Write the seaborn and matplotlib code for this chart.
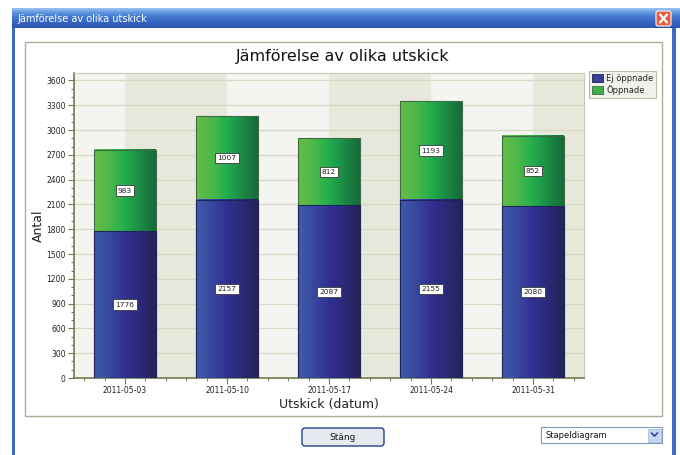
import numpy as np
import matplotlib
matplotlib.use("Agg")
import matplotlib.pyplot as plt
import matplotlib.patches as mpatches
from matplotlib.lines import Line2D
from matplotlib.transforms import IdentityTransform
from matplotlib.colors import LinearSegmentedColormap
from matplotlib.ticker import MultipleLocator
import pandas as pd
import seaborn as sns

# data
dates = ["2011-05-03", "2011-05-10", "2011-05-17", "2011-05-24", "2011-05-31"]
ej_oppnade = [1776, 2157, 2087, 2155, 2080]
oppnade = [983, 1007, 812, 1193, 852]
series_names = ["Ej öppnade", "Öppnade"]

W, H = 680, 455

sns.set_theme(style="white")
plt.rcParams['font.family'] = ['DejaVu Sans']

fig = plt.figure(figsize=(W / 100, H / 100), dpi=100)
fig.patch.set_facecolor("white")
px = IdentityTransform()


def rect_px(x0, y0, x1, y1, zorder=-1, **kw):
    # pixel rectangle, y measured from the top
    r = mpatches.Rectangle((x0, H - y1), x1 - x0, y1 - y0, transform=px,
                           zorder=zorder, **kw)
    fig.add_artist(r)
    return r


# --- window chrome ---
tb = fig.add_axes([12 / W, 1 - 28 / H, (W - 12) / W, 20 / H])
tb_cmap = LinearSegmentedColormap.from_list(
    "tb", ["#9cc4f0", "#5890dc", "#3f74cc", "#3462c0", "#2c54ae"])
tb.imshow(np.linspace(0, 1, 64).reshape(-1, 1), cmap=tb_cmap, aspect="auto",
          extent=[0, 1, 0, 1], interpolation="bicubic")
tb.set_axis_off()
fig.text(17 / W, 1 - 18.5 / H, "Jämförelse av olika utskick", color="white",
         fontsize=7, va="center", ha="left")
close_btn = mpatches.FancyBboxPatch((656, H - 26), 15, 15,
                                    boxstyle="round,pad=0,rounding_size=2",
                                    transform=px, fc="#e06040", ec="white", lw=0.8,
                                    zorder=3)
fig.add_artist(close_btn)
for xs, ys in [([660, 667], [H - 14.5, H - 22.5]), ([660, 667], [H - 22.5, H - 14.5])]:
    fig.add_artist(Line2D(xs, ys, transform=px, color="white", lw=1.6, zorder=4))

rect_px(12, 28, 15, H, fc="#3c6cc8", ec="none")
rect_px(672, 28, 676, H, fc="#3c6cc8", ec="none")

# chart control panel
rect_px(25, 42, 662, 416, fc="white", ec="#a8b098", lw=1)

# --- chart ---
ax = fig.add_axes([74 / W, 1 - 378 / H, 510 / W, 305 / H])
ax.set_facecolor("#f4f4f1")

df = pd.DataFrame({"datum": dates, "ej": ej_oppnade, "opp": oppnade})
df["total"] = df["ej"] + df["opp"]

# alternating background bands between category centres
for i in range(-1, len(dates)):
    if i % 2 == 0:
        ax.axvspan(i, i + 1, color="#e7e8dc", zorder=0.1, lw=0)

n0 = len(ax.patches)
sns.barplot(data=df, x="datum", y="total", color="#3cb04a", saturation=1,
            width=0.6, errorbar=None, ax=ax, edgecolor="#3d6b45", linewidth=0.8)
green_bars = list(ax.patches[n0:])
n1 = len(ax.patches)
sns.barplot(data=df, x="datum", y="ej", color="#34409a", saturation=1,
            width=0.6, errorbar=None, ax=ax, edgecolor="#1f2458", linewidth=0.8)
blue_bars = list(ax.patches[n1:])

green_cmap = LinearSegmentedColormap.from_list(
    "g", ["#68bc48", "#4cb84a", "#22ae4e", "#1c8a44", "#166a3c"])
blue_cmap = LinearSegmentedColormap.from_list(
    "b", ["#3f5cab", "#3848a0", "#313092", "#2b2a78", "#262256"])
grad = np.linspace(0, 1, 128).reshape(1, -1)

# horizontal gradient fill over each seaborn bar
for bars, cmap, z in [(green_bars, green_cmap, 2), (blue_bars, blue_cmap, 3)]:
    for p in bars:
        x0, y0 = p.get_x(), p.get_y()
        ax.imshow(grad, cmap=cmap, aspect="auto", interpolation="bicubic",
                  extent=[x0, x0 + p.get_width(), y0, y0 + p.get_height()],
                  zorder=z)
        p.set_facecolor("none")
        p.set_zorder(z + 0.5)

# value labels
for i, (a, b) in enumerate(zip(ej_oppnade, oppnade)):
    for yv, txt in [(a / 2, a), (a + b / 2, b)]:
        ax.text(i, yv, str(txt), ha="center", va="center", fontsize=5.3,
                color="#222222", zorder=6,
                bbox=dict(boxstyle="square,pad=0.3", fc="white", ec="#3a3a3a", lw=0.6))

ax.set_xlim(-0.5, len(dates) - 0.5)
ax.set_ylim(0, 3690)
ax.yaxis.set_major_locator(MultipleLocator(300))
ax.yaxis.set_minor_locator(MultipleLocator(100))
ax.xaxis.set_minor_locator(MultipleLocator(0.2))

ax.set_axisbelow(True)
ax.yaxis.grid(True, color="#d6dac4", lw=0.9, zorder=0.5)
ax.xaxis.grid(False)

spine_dark = "#6e7c4c"
for s in ["left", "bottom"]:
    ax.spines[s].set_color(spine_dark)
    ax.spines[s].set_linewidth(1.2)
for s in ["top", "right"]:
    ax.spines[s].set_color("#c6cab4")
    ax.spines[s].set_linewidth(0.8)

ax.tick_params(axis="both", which="major", direction="out", length=4, width=0.8,
               color=spine_dark, labelsize=5.5, labelcolor="#222222", pad=2,
               left=True, bottom=True)
ax.tick_params(axis="both", which="minor", direction="out", length=2.5, width=0.7,
               color=spine_dark, left=True, bottom=True)

ax.set_xlabel("Utskick (datum)", fontsize=9, color="#222222", labelpad=2)
ax.set_ylabel("Antal", fontsize=9, color="#222222", labelpad=1)

fig.text(343 / W, 1 - 57 / H, "Jämförelse av olika utskick", ha="center",
         va="center", fontsize=11.5, color="#111111")

# legend
handles = [mpatches.Patch(fc="#34409a", ec="#1f2458", lw=0.6),
           mpatches.Patch(fc="#3cb04a", ec="#3d6b45", lw=0.6)]
leg = fig.legend(handles, series_names, loc="upper left",
                 bbox_to_anchor=(589 / W, 1 - 71 / H), fontsize=6,
                 frameon=True, fancybox=False, facecolor="#eeeee6",
                 edgecolor="#aab09a", handlelength=1.3, handleheight=1.2,
                 borderpad=0.35, labelspacing=0.25, handletextpad=0.4,
                 borderaxespad=0)
leg.get_frame().set_linewidth(0.8)

# --- dialog controls ---
btn = mpatches.FancyBboxPatch((302, H - 446), 82, 18,
                              boxstyle="round,pad=0,rounding_size=3",
                              transform=px, fc="#e8eaf2", ec="#22408c", lw=1)
fig.add_artist(btn)
fig.text(343 / W, 1 - 437 / H, "Stäng", ha="center", va="center",
         fontsize=6.5, color="#111111")

rect_px(541, 427, 662, 443, fc="white", ec="#7f9db9", lw=0.8)
fig.text(545 / W, 1 - 435 / H, "Stapeldiagram", ha="left", va="center",
         fontsize=6, color="#111111")
rect_px(648, 428.5, 661, 441.5, fc="#c8d6f4", ec="#a8bce8", lw=0.6)
fig.add_artist(Line2D([651.5, 654.5, 657.5], [H - 433, H - 436, H - 433],
                      transform=px, color="#3050a0", lw=1.3))

fig.savefig("out.png", dpi=100)
